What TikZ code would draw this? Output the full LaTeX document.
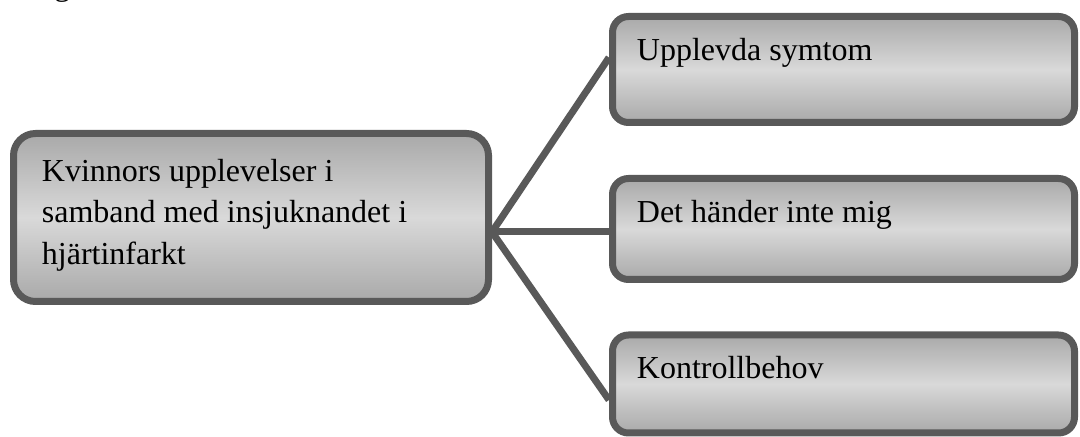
\documentclass[tikz,border=0pt]{standalone}
\usepackage{fontspec}
\setmainfont{Liberation Serif}
\usetikzlibrary{shadows,calc}
\pgfdeclarelayer{background}
\pgfsetlayers{background,main}
\definecolor{edgegray}{RGB}{89,89,89}
\definecolor{shadelight}{RGB}{217,217,217}
\definecolor{shadedark}{RGB}{163,163,163}
\pgfdeclareverticalshading{boxshade}{100bp}{color(0bp)=(shadedark); color(22bp)=(shadedark); color(50bp)=(shadelight); color(78bp)=(shadedark); color(100bp)=(shadedark)}
\begin{document}
\begin{tikzpicture}[x=0.5pt,y=-0.5pt,
  box/.style={draw=edgegray, line width=3.5pt, shade, shading=boxshade, inner sep=0pt,
    drop shadow={shadow xshift=1.2pt, shadow yshift=-1.5pt, fill=black!13, opacity=1}},
  rootbox/.style={box, rounded corners=11pt, minimum width=237.5pt, minimum height=84pt},
  leafbox/.style={box, rounded corners=8pt, minimum width=231pt},
  link/.style={draw=edgegray, line width=3.5pt},
  label/.style={anchor=base west, inner sep=0pt, font=\fontsize{16}{20.75}\selectfont}]
\useasboundingbox (0,0) rectangle (1080,437);

\begin{scope}
\clip (0,0) rectangle (1080,437);
\node[label] (cap) at (54,-4) {g};
\end{scope}

\node[rootbox] (root) at (251,217.5) {};
\node[leafbox, minimum height=53pt] (b1) at (843.5,69.5) {};
\node[leafbox, minimum height=50.5pt] (b2) at (843.5,229) {};
\node[leafbox, minimum height=49pt] (b3) at (843.5,384) {};

\node[label] (t0) at ($(root.north west)+(31.5,51.5)$)
  {\parbox[t]{230pt}{\fontsize{16}{20.75}\selectfont\raggedright Kvinnors upplevelser i\\ samband med insjuknandet i\\ hjärtinfarkt}};
\node[label] (t1) at ($(b1.north west)+(27.5,47.5)$) {Upplevda symtom};
\node[label] (t2) at ($(b2.north west)+(27.5,47.5)$) {Det händer inte mig};
\node[label] (t3) at ($(b3.north west)+(27.5,47)$) {Kontrollbehov};

\coordinate (hub) at ($(root.east)+(0,14.5)$);
\coordinate (e1) at ($(b1.west)+(0,-12)$);
\coordinate (e3) at ($(b3.west)+(0,16)$);
\begin{pgfonlayer}{background}
\draw[link] (hub) -- (e1);
\draw[link] (hub) -- (b2.west |- hub);
\draw[link] (hub) -- (e3);
\end{pgfonlayer}
\end{tikzpicture}
\end{document}
